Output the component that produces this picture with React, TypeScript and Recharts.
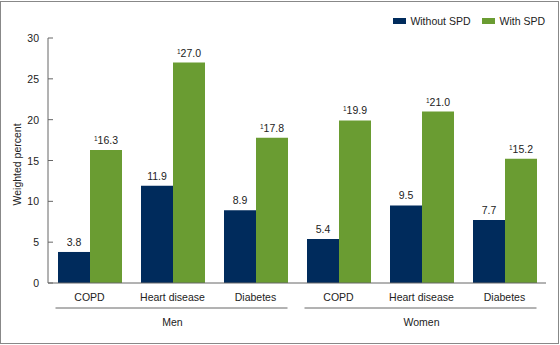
import { Bar, BarChart, LabelList, XAxis, YAxis } from "recharts";

const groups = ["Men", "Men", "Men", "Women", "Women", "Women"];
const conditions = ["COPD", "Heart disease", "Diabetes", "COPD", "Heart disease", "Diabetes"];
const withoutSpd = [3.8, 11.9, 8.9, 5.4, 9.5, 7.7];
const withSpd = [16.3, 27.0, 17.8, 19.9, 21.0, 15.2];
const yTicks = [0, 5, 10, 15, 20, 25, 30];
const seriesNames = ["Without SPD", "With SPD"];

const NAVY = "#002b5c";
const GREEN = "#6a9c32";
const AXIS = "#666";
const FONT = "'Liberation Sans', Arial, sans-serif";

const data = conditions.map((c, i) => ({
  cond: c,
  group: groups[i],
  without: withoutSpd[i],
  with: withSpd[i],
}));

function YTick(props: any) {
  const { x, y, payload } = props;
  return (
    <g>
      <line x1={x} x2={x + 5} y1={y} y2={y} stroke={AXIS} strokeWidth={1} />
      <text x={x - 9} y={y} dy={4} textAnchor="end" fontSize={10.5} fill="#222" fontFamily={FONT}>
        {payload.value}
      </text>
    </g>
  );
}

function XTick(props: any) {
  const { x, y, payload, index } = props;
  const showGroup = index % 3 === 1;
  return (
    <g>
      <text x={x} y={y + 18} textAnchor="middle" fontSize={10.5} fill="#222" fontFamily={FONT}>
        {payload.value}
      </text>
      {showGroup && (
        <>
          <line x1={x - 117} x2={x + 115} y1={y + 25} y2={y + 25} stroke={AXIS} strokeWidth={1} />
          <text x={x} y={y + 43} textAnchor="middle" fontSize={10.5} fill="#222" fontFamily={FONT}>
            {data[index].group}
          </text>
        </>
      )}
    </g>
  );
}

function PlainLabel(props: any) {
  const { x, y, width, value } = props;
  return (
    <text x={x + width / 2} y={y - 6} textAnchor="middle" fontSize={10.5} fill="#222" fontFamily={FONT}>
      {value.toFixed(1)}
    </text>
  );
}

function FlagLabel(props: any) {
  const { x, y, width, value } = props;
  return (
    <text x={x + width / 2} y={y - 6} textAnchor="middle" fontSize={10.5} fill="#222" fontFamily={FONT}>
      <tspan fontSize={6.5} dy={-3}>1</tspan>
      <tspan dy={3}>{value.toFixed(1)}</tspan>
    </text>
  );
}

export default function App() {
  return (
    <div
      style={{
        position: "fixed",
        top: 0,
        left: 0,
        width: 560,
        height: 345,
        background: "#fff",
        fontFamily: FONT,
      }}
    >
      <div
        style={{
          position: "absolute",
          top: 1,
          left: 0,
          width: 557,
          height: 341,
          border: "1px solid #888",
        }}
      />
      <div
        style={{
          position: "absolute",
          top: 15,
          right: 15,
          display: "flex",
          gap: 12,
          fontSize: 10.5,
          color: "#222",
        }}
      >
        {seriesNames.map((n, i) => (
          <div key={n} style={{ display: "flex", alignItems: "center", gap: 4 }}>
            <span style={{ width: 13, height: 6, background: i === 0 ? NAVY : GREEN, display: "inline-block" }} />
            {n}
          </div>
        ))}
      </div>
      <BarChart
        width={560}
        height={345}
        data={data}
        margin={{ top: 38, right: 14, left: 0, bottom: 12 }}
        barGap={0}
        style={{ position: "absolute", top: 0, left: 0 }}
      >
        <YAxis
          width={48}
          domain={[0, 30]}
          ticks={yTicks}
          tickLine={false}
          tickSize={0}
          tickMargin={0}
          tick={<YTick />}
          axisLine={{ stroke: AXIS }}
          label={{
            value: "Weighted percent",
            angle: -90,
            position: "insideLeft",
            dx: 12,
            dy: 45,
            fontSize: 10.5,
            fill: "#222",
            fontFamily: FONT,
          }}
        />
        <XAxis
          dataKey="cond"
          height={50}
          interval={0}
          tickLine={false}
          tickSize={0}
          tickMargin={0}
          tick={<XTick />}
          axisLine={{ stroke: AXIS }}
        />
        <Bar dataKey="without" name={seriesNames[0]} fill={NAVY} barSize={32} isAnimationActive={false}>
          <LabelList dataKey="without" content={<PlainLabel />} />
        </Bar>
        <Bar dataKey="with" name={seriesNames[1]} fill={GREEN} barSize={32} isAnimationActive={false}>
          <LabelList dataKey="with" content={<FlagLabel />} />
        </Bar>
      </BarChart>
    </div>
  );
}
